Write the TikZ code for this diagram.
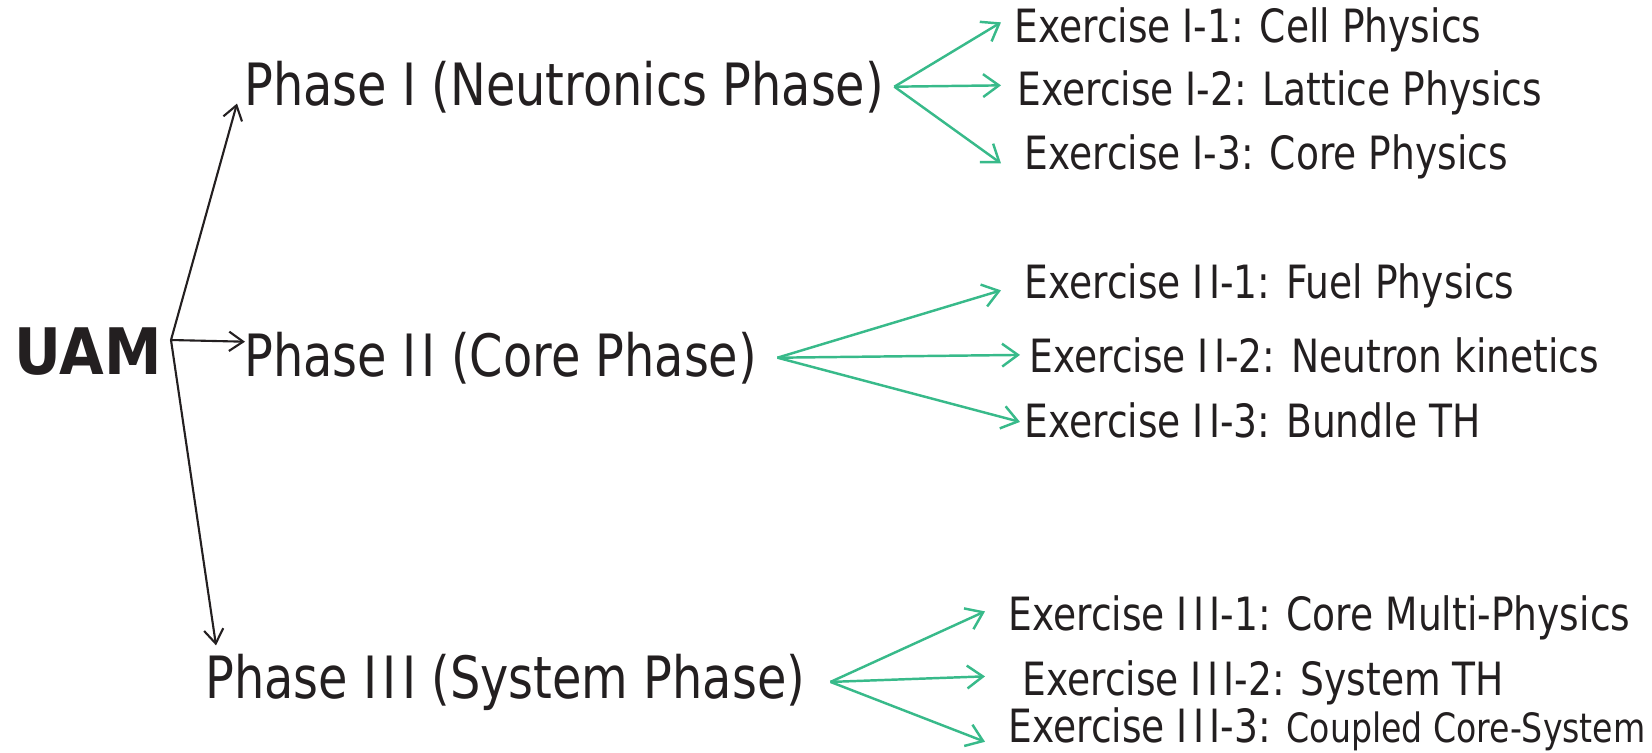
\documentclass[tikz,border=0pt]{standalone}
\usepackage{fontspec}
\setmainfont[FakeStretch=0.82]{DejaVu Sans}
\newfontfamily\uamfont[FakeStretch=0.9]{DejaVu Sans Bold}
\usepackage{tikz}
\usetikzlibrary{arrows.meta, positioning}
\definecolor{inkblack}{RGB}{35, 31, 32}
\definecolor{fangreen}{RGB}{56, 186, 138}
\newcommand{\II}{I\kern3pt I}
\newcommand{\III}{I\kern3pt I\kern3pt I}

\begin{document}
\begin{tikzpicture}[
        x=0.02cm, y=-0.02cm,
        root/.style={anchor=base west, inner sep=0pt, text=inkblack, font=\uamfont\fontsize{36.5}{40}\selectfont},
        phase/.style={anchor=base west, inner sep=0pt, text=inkblack, font=\fontsize{33.2}{36}\selectfont},
        exercise/.style={anchor=base west, inner sep=0pt, text=inkblack, font=\fontsize{26.1}{30}\selectfont},
        tophase/.style={draw=inkblack, line width=1.2pt, -{Straight Barb[length=8pt, width=11pt, line width=1.2pt]}},
        toexercise/.style={draw=fangreen, line width=1.4pt, -{Straight Barb[length=9pt, width=13pt, line width=1.4pt]}},
    ]
    \useasboundingbox (0,0) rectangle (1652,752);

    % Raiz
    \node[root] (uam) at (14,374) {UAM};
    \coordinate (fork) at (171,340);

    % Fases
    \node[phase] (ph1) at (244,105) {Phase I (Neutronics Phase)};
    \node[phase] (ph2) at (244,376) {Phase \II{} (Core Phase)};
    \node[phase] (ph3) at (205,698) {Phase \III{} (System Phase)};

    % Ejercicios fase I
    \node[exercise] (ex11) at (1014,42) {Exercise I-1: Cell Physics};
    \node[exercise] (ex12) at (1017,105) {Exercise I-2: Lattice Physics};
    \node[exercise] (ex13) at (1024,169) {Exercise I-3: Core Physics};

    % Ejercicios fase II
    \node[exercise] (ex21) at (1024,298) {Exercise \II-1: Fuel Physics};
    \node[exercise] (ex22) at (1029,372) {Exercise \II-2: Neutron kinetics};
    \node[exercise] (ex23) at (1024,437) {Exercise \II-3: Bundle TH};

    % Ejercicios fase III
    \node[exercise] (ex31) at (1008,630) {Exercise \III-1: Core Multi-Physics};
    \node[exercise] (ex32) at (1022,695) {Exercise \III-2: System TH};
    \node[exercise] (ex33) at (1008,742) {Exercise \III-3: {\fontsize{23}{26}\selectfont Coupled Core-System}};

    % Conexiones
    \draw[tophase] (fork) -- ([xshift=-0.14cm, yshift=0.19cm]ph1.south west);
    \draw[tophase] (fork) -- ([xshift=0.02cm, yshift=0.32cm]ph2.west);
    \draw[tophase] (fork) -- ([xshift=0.22cm, yshift=0.16cm]ph3.north west);

    \draw[toexercise] ([xshift=0.2cm]ph1.east) -- ([xshift=-0.26cm, yshift=0.14cm]ex11.west);
    \draw[toexercise] ([xshift=0.2cm]ph1.east) -- ([xshift=-0.32cm, yshift=0.14cm]ex12.west);
    \draw[toexercise] ([xshift=0.2cm]ph1.east) -- ([xshift=-0.46cm, yshift=-0.14cm]ex13.west);

    \draw[toexercise] ([xshift=0.4cm]ph2.east) -- ([xshift=-0.46cm, yshift=-0.1cm]ex21.west);
    \draw[toexercise] ([xshift=0.4cm]ph2.east) -- ([xshift=-0.18cm]ex22.west);
    \draw[toexercise] ([xshift=0.4cm]ph2.east) -- ([xshift=-0.08cm, yshift=-0.04cm]ex23.west);

    \draw[toexercise] ([xshift=0.5cm]ph3.east) -- ([xshift=-0.46cm, yshift=0.12cm]ex31.west);
    \draw[toexercise] ([xshift=0.5cm]ph3.east) -- ([xshift=-0.74cm, yshift=0.12cm]ex32.west);
    \draw[toexercise] ([xshift=0.5cm]ph3.east) -- ([xshift=-0.46cm, yshift=-0.26cm]ex33.west);

\end{tikzpicture}
\end{document}
